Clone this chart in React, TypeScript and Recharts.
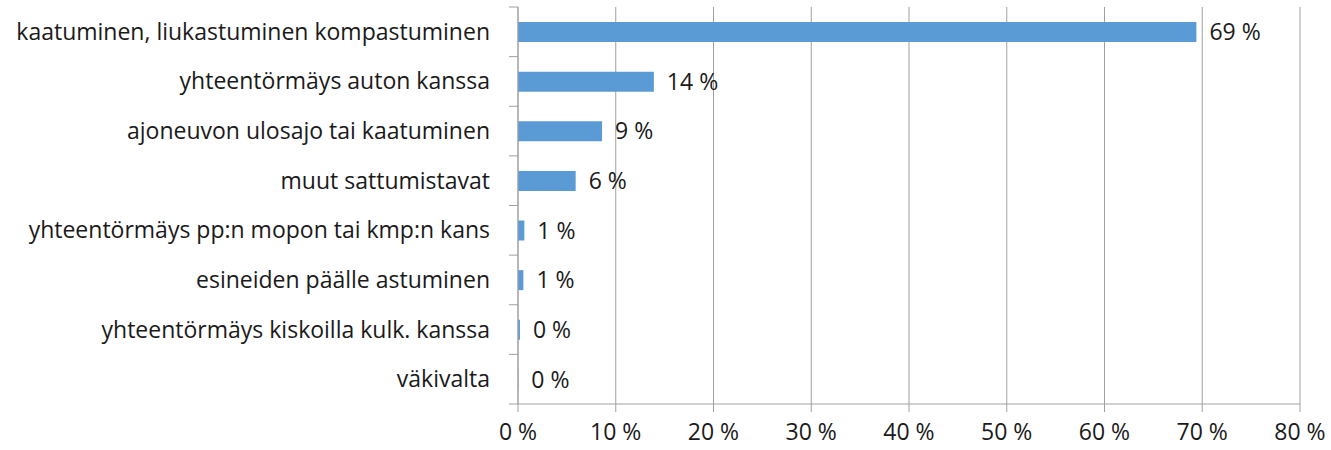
import React from 'react';
import { BarChart, Bar, XAxis, YAxis, CartesianGrid, LabelList } from 'recharts';

const categories = [
  'kaatuminen, liukastuminen kompastuminen',
  'yhteentörmäys auton kanssa',
  'ajoneuvon ulosajo tai kaatuminen',
  'muut sattumistavat',
  'yhteentörmäys pp:n mopon tai kmp:n kans',
  'esineiden päälle astuminen',
  'yhteentörmäys kiskoilla kulk. kanssa',
  'väkivalta',
];
const shares = [69.4, 13.9, 8.6, 5.9, 0.65, 0.55, 0.2, 0.03];
const xTicks = [0, 10, 20, 30, 40, 50, 60, 70, 80];

const data = categories.map((name, i) => ({ name, value: shares[i] }));

const FONT = '"Open Sans", sans-serif';
const SIZE = 23;
const TEXT = '#1a1a1a';
const LINE = '#a0a0a0';

const CategoryTick = (props: any) => {
  const { x, y, payload, index } = props;
  const half = typeof payload.offset === 'number' && payload.offset > 0 ? payload.offset : 24.8;
  const axisX = x + 28;
  return (
    <g>
      <line x1={axisX - 9} x2={axisX} y1={y - half} y2={y - half} stroke={LINE} />
      {index === categories.length - 1 && (
        <line x1={axisX - 9} x2={axisX} y1={y + half} y2={y + half} stroke={LINE} />
      )}
      <text x={x} y={y} dy="0.35em" textAnchor="end" fill={TEXT} fontSize={SIZE} fontFamily={FONT}>
        {payload.value}
      </text>
    </g>
  );
};

export default function App() {
  return (
    <div style={{ position: 'absolute', left: 0, top: 0, width: 1331, height: 450, background: '#fff' }}>
      <BarChart
        width={1331}
        height={450}
        data={data}
        layout="vertical"
        margin={{ top: 7, right: 31, left: 0, bottom: 0 }}
      >
        <CartesianGrid horizontal={false} stroke={LINE} />
        <XAxis
          type="number"
          domain={[0, 80]}
          ticks={xTicks}
          interval={0}
          height={46}
          tickSize={8}
          tickMargin={12}
          stroke={LINE}
          tickFormatter={(v: number) => `${v} %`}
          tick={{ fill: TEXT, fontSize: SIZE, fontFamily: FONT }}
        />
        <YAxis
          type="category"
          dataKey="name"
          width={518}
          tickLine={false}
          tickSize={6}
          tickMargin={22}
          stroke={LINE}
          interval={0}
          tick={<CategoryTick />}
        />
        <Bar dataKey="value" fill="#5b9bd5" barSize={20} isAnimationActive={false}>
          <LabelList
            dataKey="value"
            position="right"
            offset={13}
            formatter={(v: any) => `${Math.round(Number(v))} %`}
            fill={TEXT}
            fontSize={SIZE}
            fontFamily={FONT}
          />
        </Bar>
      </BarChart>
    </div>
  );
}
